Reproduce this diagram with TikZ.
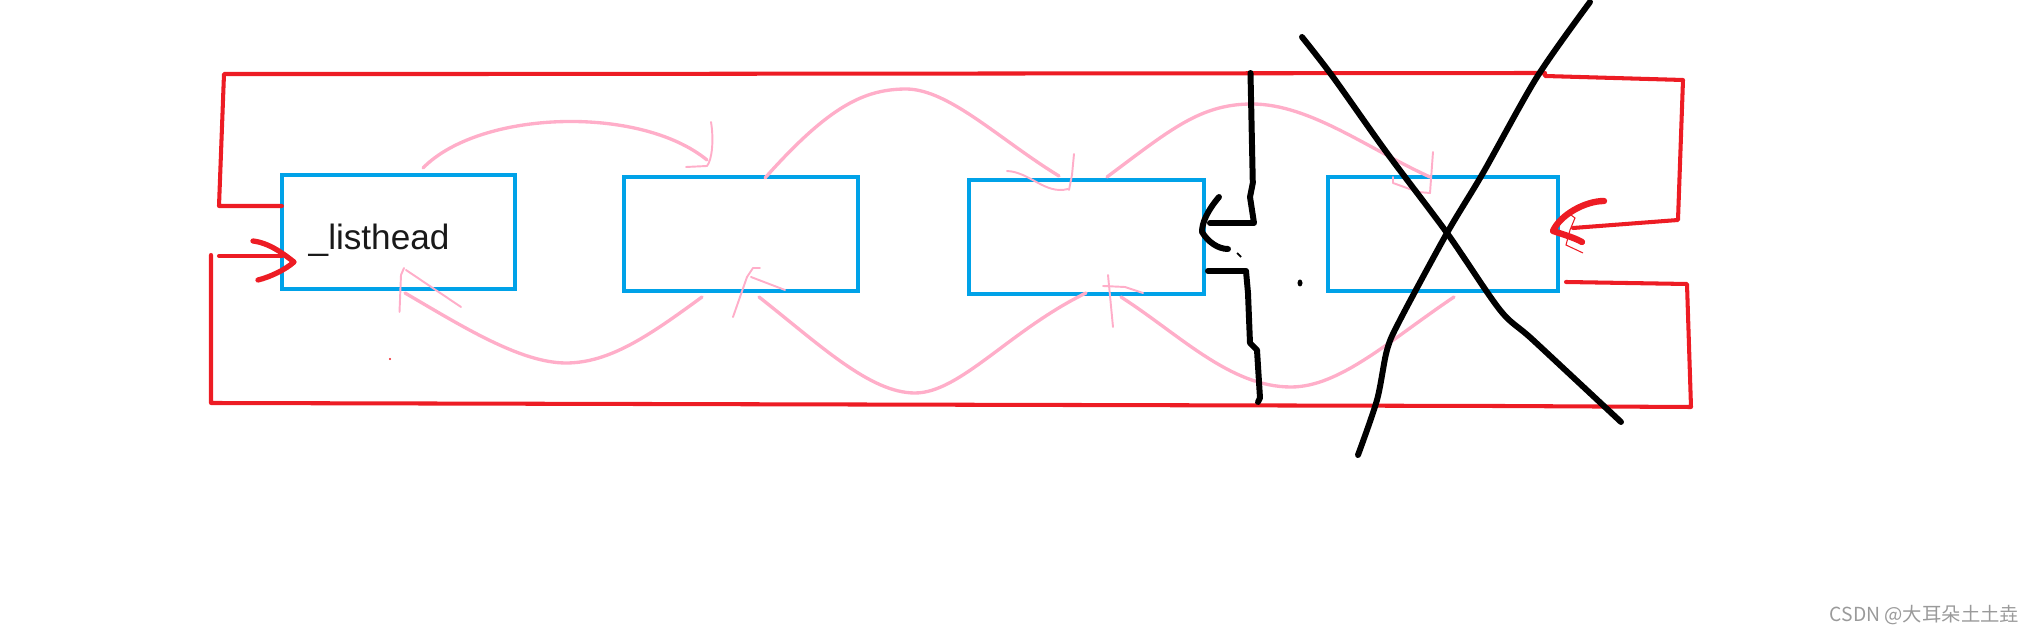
\documentclass[tikz,border=0pt]{standalone}
\usepackage{fontspec}
\setmainfont{Liberation Sans}
\newfontfamily\cjkfont{Noto Sans CJK SC}
\definecolor{boxblue}{HTML}{00A2E8}
\definecolor{penred}{HTML}{ED1C24}
\definecolor{penpink}{HTML}{FFAEC9}
\definecolor{markgray}{HTML}{9A9A9A}
\tikzset{
  listbox/.style={draw=boxblue, line width=1.15pt, inner sep=0pt, outer sep=0pt, minimum height=1.13cm},
  redpen/.style={draw=penred, line width=1.15pt, line join=round, line cap=round},
  redhead/.style={draw=penred, line width=1.5pt, line cap=round, line join=round},
  pinkpen/.style={draw=penpink, line width=0.95pt, line cap=round},
  pinkhead/.style={draw=penpink, line width=0.55pt, line cap=round, line join=round},
  blackpen/.style={draw=black, line width=1.7pt, line cap=round, line join=round},
}
\begin{document}
\begin{tikzpicture}[x=0.01cm, y=-0.01cm]
\useasboundingbox (0,0) rectangle (2035,634);

% list boxes
\node[listbox, minimum width=2.33cm] (b1) at (398.5,232) {};
\node[listbox, minimum width=2.34cm] (b2) at (741,234) {};
\node[listbox, minimum width=2.35cm] (b3) at (1086.5,237) {};
\node[listbox, minimum width=2.30cm] (b4) at (1443,234) {};
\node[anchor=base west, inner sep=0pt, font=\fontsize{10}{12}\selectfont, text=black!90] (lh) at (308,250) {\_listhead};

% red outer links
\coordinate (rtA) at (219,206);
\draw[redpen] (b1.west |- rtA) -- (rtA) -- (224,74) -- (472,74) -- (1545,73) -- (1545,76) -- (1683,80) -- (1678,220) -- (1573,228);
\draw[redhead, line width=1.8pt] (1604,201) .. controls (1585,201) and (1560,215) .. (1553,231) .. controls (1565,235) and (1575,238) .. (1582,242);
\draw[draw=penred, line width=0.3pt] (1567,212) -- (1575,218) -- (1570,230) -- (1566,245) -- (1583,253);
\draw[redpen] (1566,282) -- (1687,284) -- (1691,407) -- (1500,406) -- (211,403) -- (211,255);
\coordinate (rbA) at (219,256);
\draw[redpen] (rbA) -- (b1.west |- rbA);
\draw[redhead] (253,241) .. controls (270,243) and (285,255) .. (294,262) .. controls (285,270) and (270,277) .. (258,280);
\fill[penred] (390,359) circle (1.2);

% pink links (top)
\draw[pinkpen] (423,168) .. controls (480,110) and (640,105) .. (707,160);
\draw[pinkhead] (711,122) .. controls (714,140) and (712,160) .. (707,166) -- (686,167);
\draw[pinkpen] (765,178) .. controls (830,105) and (865,89) .. (907,89) .. controls (950,90) and (1000,140) .. (1059,176);
\draw[pinkhead] (1007,171) .. controls (1030,172) and (1045,195) .. (1068,189);
\draw[pinkhead] (1074,154) -- (1072,175) -- (1069,190);
\draw[pinkpen] (1107,177) .. controls (1170,130) and (1200,104) .. (1252,104) .. controls (1310,104) and (1370,150) .. (1430,177);
\draw[pinkhead] (1433,152) -- (1430,193) -- (1418,192) -- (1393,183) -- (1393,177);

% pink links (bottom)
\draw[pinkpen] (702,297) .. controls (650,335) and (610,363) .. (566,363) .. controls (520,363) and (460,325) .. (405,293);
\draw[pinkhead] (399.5,312) -- (401,275) -- (404,268);
\draw[pinkhead] (406,270) -- (461,307);
\draw[pinkpen] (1086,293) .. controls (1010,330) and (960,393) .. (915,393) .. controls (870,393) and (820,345) .. (759,297);
\draw[pinkhead] (733,317) -- (747,277) -- (753,268) -- (760,268);
\draw[pinkhead] (751,277) -- (785,290);
\draw[pinkpen] (1454,297) .. controls (1390,340) and (1340,387) .. (1291,387) .. controls (1230,387) and (1180,335) .. (1121,297);
\draw[pinkhead] (1113,327) -- (1108,275);
\draw[pinkhead] (1103,286) -- (1125,287) -- (1143,293);

% black cut
\draw[blackpen] (1250.5,73) -- (1252.8,183) -- (1250,197) -- (1254,223) -- (1210,223);
\draw[blackpen] (1219,197) .. controls (1208,210) and (1202,222) .. (1202,232) .. controls (1208,242) and (1218,249) .. (1228,249);
\draw[draw=black, line width=0.5pt] (1237,253) -- (1241,257);
\draw[blackpen] (1208,271) -- (1246,271) -- (1248,293) -- (1250,343) -- (1257,350) -- (1260,398) -- (1258,402);
\fill (1300,283) ellipse (2.5 and 3.5);

% big X over the last node
\draw[blackpen] plot[smooth] coordinates {(1302,37) (1333,77) (1387,153) (1447,233) (1500,310) (1533,340) (1621,422)};
\draw[blackpen] plot[smooth] coordinates {(1590,2) (1537,77) (1483,173) (1447,233) (1400,320) (1387,350) (1377,400) (1358,455)};

% watermark
\node[anchor=west, inner sep=0pt, text=markgray, font=\cjkfont\fontsize{5.5}{6}\selectfont] (wm) at (1829,615) {CSDN @大耳朵土土垚};
\end{tikzpicture}
\end{document}
